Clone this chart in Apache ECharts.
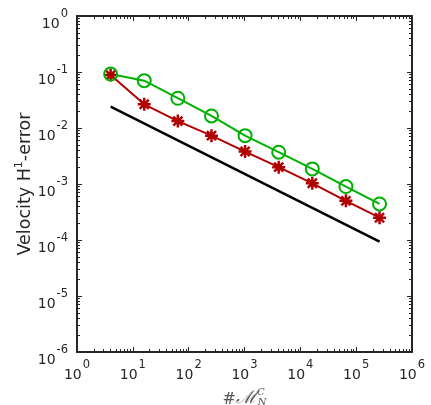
<!DOCTYPE html>
<html>
<head>
<meta charset="utf-8">
<script src="https://cdn.jsdelivr.net/npm/echarts@6/dist/echarts.min.js"></script>
<style>
    html, body {margin: 0; padding: 0; background: #fff;}
    #chart {width: 431px; height: 405px;}
</style>
</head>
<body>
<div id="chart"></div>
<script>
// mesh sizes (#M_N^C) and errors
const meshSizes = [4, 16, 64, 256, 1024, 4096, 16384, 65536, 262144];
const greenErr = [0.092, 0.070, 0.034, 0.0164, 0.0073, 0.0037, 0.00186, 0.00090, 0.00044];
const redErr = [0.088, 0.0265, 0.0133, 0.0073, 0.0038, 0.0020, 0.00103, 0.00050, 0.00025];
// reference slope line
const refX = [4, 262144];
const refY = [0.024, 0.0000938];

const axisColor = '#262626';
const txtColor = '#262626';
const gridBox = {left: 77, right: 19, top: 16, bottom: 53, outerBoundsMode: 'none', containLabel: false};

// minor tick positions (log10 space) for the tick-only axes
const minorTicks = (lo, hi) => {
    let out = [];
    for (let d = lo; d < hi; d++) {
        for (let k = 2; k <= 9; k++) out.push(d + Math.log10(k));
    }
    return out;
};

const powLabel = v => '{b|10}{e|' + Math.round(Math.log10(v)) + '}';
const powRich = {
    b: {fontSize: 14, color: txtColor, fontFamily: 'DejaVu Sans', lineHeight: 14, padding: [9, 0, 0, 0]},
    e: {fontSize: 11.5, color: txtColor, fontFamily: 'DejaVu Sans', lineHeight: 12, padding: [0, 0, 11, 1]}
};

// asterisk marker: + and x on top of each other
const starPath = 'path://M0,6L12,6M6,0L6,12M1.8,1.8L10.2,10.2M1.8,10.2L10.2,1.8';

const mainLog = (pos, isX) => ({
    type: 'log', logBase: 10, position: pos, gridIndex: 0,
    min: isX ? 1 : 1e-6, max: isX ? 1e6 : 1,
    splitNumber: 6,
    axisLine: {show: true, onZero: false, lineStyle: {color: axisColor, width: 2}},
    axisTick: {show: true, inside: true, length: 5, lineStyle: {color: axisColor, width: 1}},
    axisLabel: {
        show: pos === 'bottom' || pos === 'left', formatter: powLabel, rich: powRich,
        margin: isX ? 12 : 9, padding: isX ? 0 : [8, 0, 0, 0]
    },
    splitLine: {show: false},
    minorTick: {show: false}
});

const minorAxis = (pos, isX) => ({
    type: 'value', position: pos, gridIndex: 1,
    min: isX ? 0 : -6, max: isX ? 6 : 0,
    axisLine: {show: false, onZero: false},
    axisTick: {show: true, inside: true, length: 3, customValues: isX ? minorTicks(0, 6) : minorTicks(-6, 0),
        lineStyle: {color: axisColor, width: 1}},
    axisLabel: {show: false},
    splitLine: {show: false}
});

let xMain = mainLog('bottom', true);
xMain.name = '{h|#}{m|ℳ}{s|C}{n|N}';
xMain.nameLocation = 'middle';
xMain.nameGap = 35;
xMain.nameTextStyle = {
    rich: {
        h: {fontSize: 16, fontFamily: 'DejaVu Serif', color: '#555', verticalAlign: 'bottom', lineHeight: 20},
        m: {fontSize: 18, fontFamily: 'DejaVu Serif', fontStyle: 'italic', color: '#555', verticalAlign: 'bottom', lineHeight: 20},
        s: {fontSize: 10, fontFamily: 'DejaVu Serif', fontStyle: 'italic', color: '#555', verticalAlign: 'top', lineHeight: 10},
        n: {fontSize: 10, fontFamily: 'DejaVu Serif', fontStyle: 'italic', color: '#555', verticalAlign: 'bottom', lineHeight: 10, padding: [0, 0, 0, -7]}
    }
};

let yMain = mainLog('left', false);
yMain.name = '{t|Velocity H}{s|1}{t|-error}';
yMain.nameLocation = 'middle';
yMain.nameGap = 43;
yMain.nameMoveOverlap = false;
yMain.nameRotate = 90;
yMain.nameTextStyle = {
    rich: {
        t: {fontSize: 17.5, fontFamily: 'DejaVu Sans', color: txtColor, lineHeight: 20, verticalAlign: 'bottom'},
        s: {fontSize: 11, fontFamily: 'DejaVu Sans', color: txtColor, lineHeight: 11, verticalAlign: 'top'}
    }
};

const chart = echarts.init(document.getElementById('chart'));
chart.setOption({
    animation: false,
    grid: [Object.assign({}, gridBox), Object.assign({}, gridBox)],
    xAxis: [xMain, mainLog('top', true), minorAxis('bottom', true), minorAxis('top', true)],
    yAxis: [yMain, mainLog('right', false), minorAxis('left', false), minorAxis('right', false)],
    series: [
        {
            name: 'ref', type: 'line', xAxisIndex: 0, yAxisIndex: 0,
            data: refX.map((x, i) => [x, refY[i]]),
            symbol: 'none',
            lineStyle: {color: '#000', width: 2.5}
        },
        {
            name: 'red', type: 'line', xAxisIndex: 0, yAxisIndex: 0,
            data: meshSizes.map((x, i) => [x, redErr[i]]),
            symbol: starPath, symbolSize: 13,
            lineStyle: {color: '#b00000', width: 2},
            itemStyle: {color: 'none', borderColor: '#b00000', borderWidth: 2.5}
        },
        {
            name: 'green', type: 'line', xAxisIndex: 0, yAxisIndex: 0,
            data: meshSizes.map((x, i) => [x, greenErr[i]]),
            symbol: 'circle', symbolSize: 13,
            lineStyle: {color: '#00b000', width: 2},
            itemStyle: {color: 'none', borderColor: '#00b000', borderWidth: 2}
        }
    ]
});
</script>
</body>
</html>
